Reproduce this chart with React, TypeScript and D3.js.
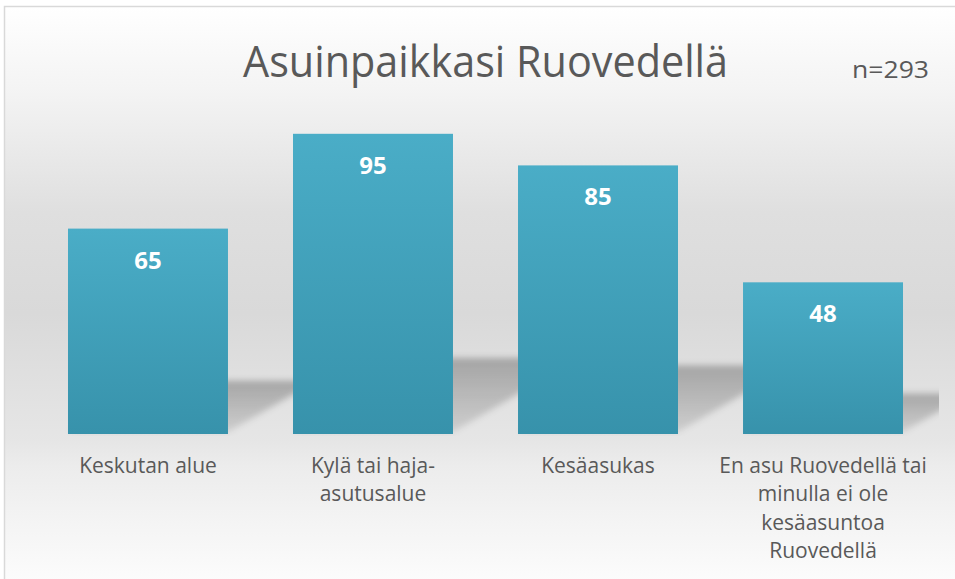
import React from "react";
import * as d3 from "d3";

const categories = [
  "Keskutan alue",
  "Kylä tai haja-asutusalue",
  "Kesäasukas",
  "En asu Ruovedellä tai minulla ei ole kesäasuntoa Ruovedellä",
];
const labelLines = [
  ["Keskutan alue"],
  ["Kylä tai haja-", "asutusalue"],
  ["Kesäasukas"],
  ["En asu Ruovedellä tai", "minulla ei ole", "kesäasuntoa", "Ruovedellä"],
];
const values = [65, 95, 85, 48];
const title = "Asuinpaikkasi Ruovedellä";
const note = "n=293";

const W = 955;
const H = 579;
const font = "'Open Sans', 'Noto Sans', sans-serif";
const textColor = "#595959";

const App = () => {
  const x = d3
    .scaleBand<string>()
    .domain(categories)
    .range([35.5, 935.5])
    .paddingInner(0.289)
    .paddingOuter(0.1444);
  const y = d3.scaleLinear().domain([0, 100]).range([434, 118]);
  const base = y(0);

  return (
    <svg
      width={W}
      height={H}
      style={{ position: "absolute", left: 0, top: 0 }}
      fontFamily={font}
    >
      <defs>
        <linearGradient id="bg" x1="0" y1="0" x2="0" y2="1">
          <stop offset="0" stopColor="#ffffff" />
          <stop offset="0.14" stopColor="#f4f4f4" />
          <stop offset="0.35" stopColor="#dfdfdf" />
          <stop offset="0.52" stopColor="#d9d9d9" />
          <stop offset="0.74" stopColor="#e6e6e6" />
          <stop offset="0.78" stopColor="#ececec" />
          <stop offset="1" stopColor="#fefefe" />
        </linearGradient>
        <linearGradient id="bar" x1="0" y1="0" x2="0" y2="1">
          <stop offset="0" stopColor="#4aadc7" />
          <stop offset="1" stopColor="#3792ab" />
        </linearGradient>
        <linearGradient id="shade" x1="0" y1="0" x2="0" y2="1">
          <stop offset="0" stopColor="#000" stopOpacity="0.26" />
          <stop offset="1" stopColor="#000" stopOpacity="0.1" />
        </linearGradient>
        <filter id="blur" x="-20%" y="-20%" width="140%" height="140%">
          <feGaussianBlur stdDeviation="3" />
        </filter>
        <clipPath id="plotClip">
          <rect x={0} y={0} width={939} height={436} />
        </clipPath>
      </defs>

      <rect x={0} y={0} width={W} height={H} fill="#ffffff" />
      <rect x={4.5} y={6.5} width={W + 10} height={H + 10} fill="url(#bg)" stroke="#d9d9d9" strokeWidth={1.5} />

      <text
        x={485.5}
        y={77}
        textAnchor="middle"
        fontSize={43}
        fill={textColor}
        textLength={485}
        lengthAdjust="spacingAndGlyphs"
      >
        {title}
      </text>
      <text x={852} y={78} fontSize={24} fill={textColor} textLength={77} lengthAdjust="spacingAndGlyphs">
        {note}
      </text>

      <g clipPath="url(#plotClip)">
        {categories.map((c, i) => {
          const x0 = x(c)!;
          const x1 = x0 + x.bandwidth();
          const bh = base - y(values[i]);
          const h = bh * 0.24 + 4;
          const dx = h / 0.6;
          const pts = [
            [x0, base - 2],
            [x1, base - 2],
            [x1 + dx, base - h],
            [x0 + dx, base - h],
          ];
          return (
            <polygon
              key={c}
              points={pts.map((p) => p.join(",")).join(" ")}
              fill="url(#shade)"
              filter="url(#blur)"
            />
          );
        })}
      </g>

      {categories.map((c, i) => (
        <g key={c}>
          <rect x={x(c)} y={y(values[i])} width={x.bandwidth()} height={base - y(values[i])} fill="url(#bar)" />
          <text
            x={x(c)! + x.bandwidth() / 2}
            y={y(values[i]) + 40}
            textAnchor="middle"
            fontSize={24}
            fontWeight="bold"
            fill="#ffffff"
          >
            {values[i]}
          </text>
          <text textAnchor="middle" fontSize={21} fill={textColor}>
            {labelLines[i].map((line, j) => (
              <tspan key={j} x={x(c)! + x.bandwidth() / 2} y={473 + j * 28.4}>
                {line}
              </tspan>
            ))}
          </text>
        </g>
      ))}
    </svg>
  );
};

export default App;
